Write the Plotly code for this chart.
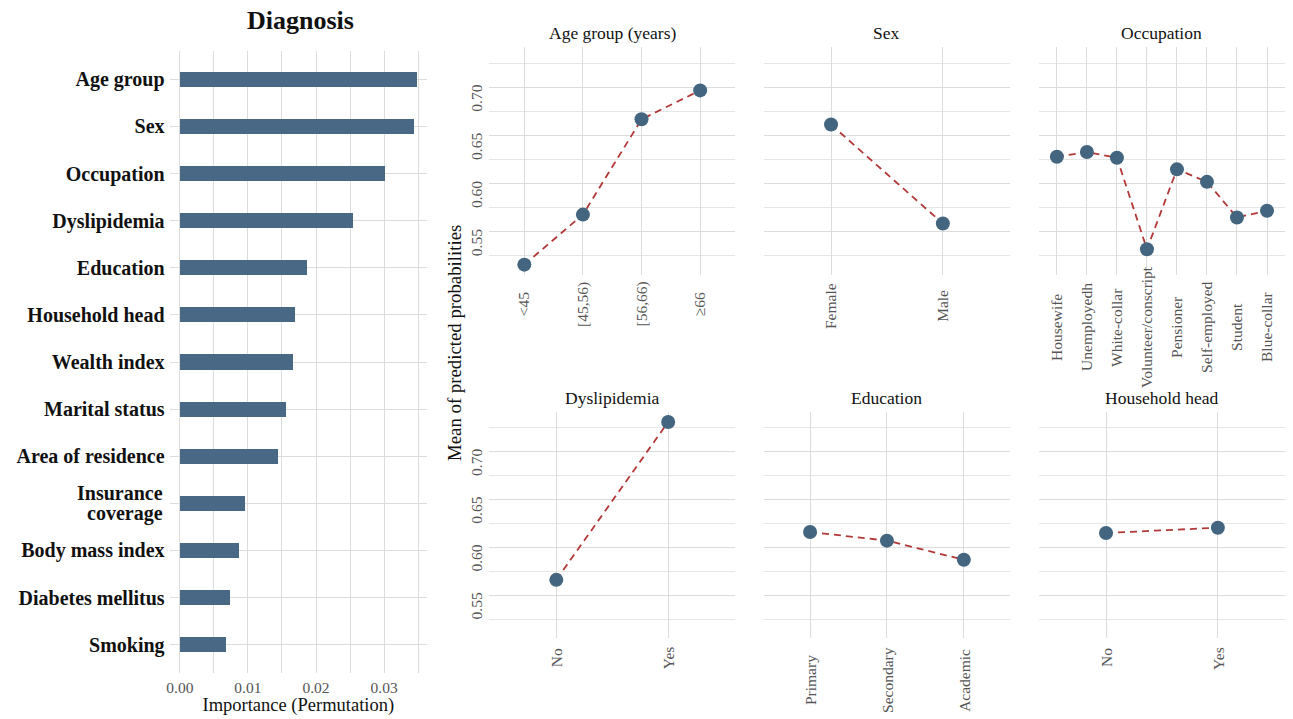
import plotly.graph_objects as go

# ---------------- data ----------------
features = ["Age group", "Sex", "Occupation", "Dyslipidemia", "Education",
            "Household head", "Wealth index", "Marital status", "Area of residence",
            "Insurance coverage", "Body mass index", "Diabetes mellitus", "Smoking"]
importance = [0.0347, 0.0344, 0.0300, 0.0254, 0.0186, 0.0168, 0.0165, 0.0156,
              0.0143, 0.0095, 0.0086, 0.0073, 0.0067]

age_levels = ["<45", "[45,56)", "[56,66)", "≥66"]
age_prob = [0.516, 0.568, 0.667, 0.697]

sex_levels = ["Female", "Male"]
sex_prob = [0.6615, 0.5587]

occ_levels = ["Housewife", "Unemployedh", "White-collar", "Volunteer/conscript",
              "Pensioner", "Self-employed", "Student", "Blue-collar"]
occ_prob = [0.628, 0.633, 0.627, 0.532, 0.615, 0.602, 0.565, 0.572]

dys_levels = ["No", "Yes"]
dys_prob = [0.566, 0.731]

edu_levels = ["Primary", "Secondary", "Academic"]
edu_prob = [0.616, 0.607, 0.587]

hh_levels = ["No", "Yes"]
hh_prob = [0.615, 0.6205]

imp_ticks = [0.00, 0.01, 0.02, 0.03]
prob_major = [0.55, 0.60, 0.65, 0.70]
prob_minor = [0.525, 0.575, 0.625, 0.675, 0.725]

# ---------------- styling ----------------
W, H = 1293, 719
SERIF = "Liberation Serif"
BAR_COL = "#486886"
PT_COL = "#44657F"
LINE_COL = "#B23838"
GRID = "#DCDCDC"
GRID_MINOR = "#E6E6E6"
TICK_COL = "#555555"
TICK_SIZE = 15.5
LABEL_FONT = dict(family=SERIF, size=20, color="#111111", weight="bold")


def px_x(a, b):
    return [a / W, b / W]


def px_y(top, bottom):
    return [1 - bottom / H, 1 - top / H]


fig = go.Figure()

# ---------------- permutation importance bars ----------------
fig.add_trace(go.Bar(
    x=importance, y=features, orientation="h",
    marker=dict(color=BAR_COL, line=dict(width=0)),
    width=0.32, xaxis="x", yaxis="y", showlegend=False,
))

# long feature names are wrapped onto two tightly spaced lines
wrapped = ["Insurance coverage"]
tick_text = ["" if f in wrapped else f for f in features]

fig.update_layout(
    xaxis=dict(
        domain=px_x(167, 425), anchor="y", range=[-0.0015, 0.0363],
        tickvals=imp_ticks, tickformat=".2f", showline=False, zeroline=False,
        ticks="", showgrid=True, gridcolor=GRID, gridwidth=1.2,
        minor=dict(dtick=0.005, tick0=0, showgrid=True, gridcolor=GRID, gridwidth=1.2),
        tickfont=dict(family=SERIF, size=TICK_SIZE, color=TICK_COL),
        ticklabelstandoff=3,
        title=dict(text="Importance (Permutation)",
                   font=dict(family=SERIF, size=18.5, color="#111111"), standoff=2),
    ),
    yaxis=dict(
        domain=px_y(51, 673), anchor="x", type="category",
        categoryorder="array", categoryarray=features,
        tickmode="array", tickvals=features, ticktext=tick_text,
        range=[len(features) - 0.4, -0.6],
        showgrid=True, gridcolor=GRID, gridwidth=1.2, zeroline=False, ticks="",
        tickfont=LABEL_FONT, ticklabelstandoff=4,
    ),
)

annotations = []
for f in wrapped:
    first, second = f.split(" ", 1)
    for line, shift in ((first, 10), (second, -10)):
        annotations.append(dict(
            text=line, xref="paper", yref="y", x=(167 - 6) / W, y=f,
            xanchor="right", yanchor="middle", yshift=shift, showarrow=False,
            font=LABEL_FONT, borderpad=0,
        ))

# ---------------- marginal predicted probability panels ----------------
panels = [
    ("Age group (years)", age_levels, age_prob, (487.3, 734), (47.3, 275), 304),
    ("Sex", sex_levels, sex_prob, (762.7, 1009.3), (47.3, 275), 306),
    ("Occupation", occ_levels, occ_prob, (1038.3, 1285), (47.3, 275), 327),
    ("Dyslipidemia", dys_levels, dys_prob, (487.3, 734), (411.7, 638), 658),
    ("Education", edu_levels, edu_prob, (762.7, 1009.3), (411.7, 638), 680),
    ("Household head", hh_levels, hh_prob, (1038.3, 1285), (411.7, 638), 658),
]

all_probs = age_prob + sex_prob + occ_prob + dys_prob + edu_prob + hh_prob
lo, hi = min(all_probs), max(all_probs)
pad = 0.05 * (hi - lo)
prob_range = [lo - pad, hi + pad]

for i, (title, levels, probs, (x0, x1), (y0, y1), lab_y) in enumerate(panels):
    k = i + 2
    xa, ya = f"x{k}", f"y{k}"
    fig.add_trace(go.Scatter(
        x=levels, y=probs, mode="lines", xaxis=xa, yaxis=ya, showlegend=False,
        line=dict(color=LINE_COL, width=1.8, dash="7px,5px"),
    ))
    fig.add_trace(go.Scatter(
        x=levels, y=probs, mode="markers", xaxis=xa, yaxis=ya, showlegend=False,
        marker=dict(color=PT_COL, size=14, line=dict(width=0)),
    ))
    first_col = x0 < 500
    fig.layout[f"xaxis{k}"] = dict(
        domain=px_x(x0, x1), anchor=ya, type="category",
        categoryorder="array", categoryarray=levels,
        range=[-0.6, len(levels) - 0.4], showgrid=True, gridcolor=GRID,
        gridwidth=1.3, zeroline=False, showline=False, ticks="",
        showticklabels=False,
    )
    fig.layout[f"yaxis{k}"] = dict(
        domain=px_y(y0, y1), anchor=xa, range=prob_range,
        tickvals=prob_major, tickformat=".2f", showgrid=True, gridcolor=GRID,
        gridwidth=1.3, zeroline=False, showline=False, ticks="",
        minor=dict(tickvals=prob_minor, showgrid=True, gridcolor=GRID_MINOR,
                   gridwidth=1.0),
        showticklabels=first_col, tickangle=-90, ticklabelshift=13,
        ticklabelstandoff=3,
        tickfont=dict(family=SERIF, size=TICK_SIZE, color=TICK_COL),
    )
    # panel title
    annotations.append(dict(
        text=title, xref="paper", yref="paper",
        x=(x0 + x1) / 2 / W, y=1 - (y0 - 14) / H, xanchor="center",
        yanchor="middle", showarrow=False,
        font=dict(family=SERIF, size=17.5, color="#111111"),
    ))
    # rotated category labels
    for lev in levels:
        annotations.append(dict(
            text=lev, xref=xa, yref="paper", x=lev, y=1 - lab_y / H,
            xanchor="center", yanchor="middle", textangle=-90, showarrow=False,
            font=dict(family=SERIF, size=TICK_SIZE, color=TICK_COL),
        ))

annotations.append(dict(
    text="Mean of predicted probabilities", xref="paper", yref="paper",
    x=452 / W, y=1 - 343 / H, xanchor="center", yanchor="middle",
    textangle=-90, showarrow=False,
    font=dict(family=SERIF, size=18.8, color="#111111"),
))
annotations.append(dict(
    text="<b>Diagnosis</b>", xref="paper", yref="paper",
    x=298 / W, y=1 - 20 / H, xanchor="center", yanchor="middle",
    showarrow=False, font=dict(family=SERIF, size=26, color="#111111"),
))

fig.update_layout(
    width=W, height=H, margin=dict(l=0, r=0, t=0, b=0),
    paper_bgcolor="white", plot_bgcolor="white",
    annotations=annotations, bargap=0,
    font=dict(family=SERIF),
)

fig.write_html("out.html")
